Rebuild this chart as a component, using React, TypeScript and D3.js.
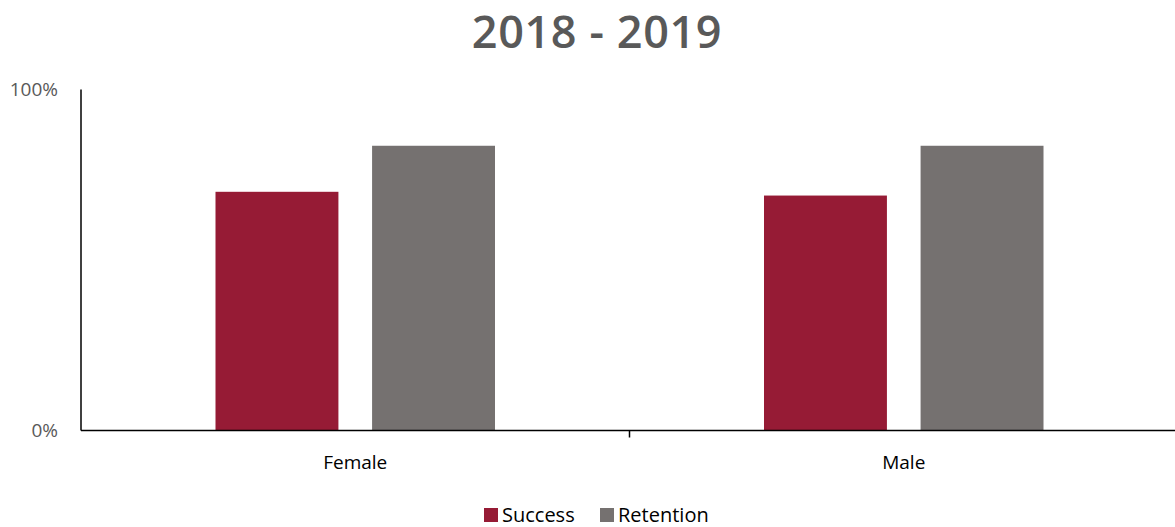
import React, { useEffect } from 'react';
import { scaleBand, scaleLinear } from 'd3';

const categories = ['Female', 'Male'];
const seriesNames = ['Success', 'Retention'];
const successValues = [0.70, 0.689];
const retentionValues = [0.835, 0.835];
const yTicks = [0, 1];
const colors = ['#961B35', '#757170'];

const W = 1175;
const H = 527;
const margin = { left: 81, right: -3, top: 89.5, bottom: 96.5 };

export default function App() {
  useEffect(() => {
    document.body.style.margin = '0';
  }, []);

  const x = scaleBand<string>()
    .domain(categories)
    .range([margin.left, W - margin.right])
    .paddingInner(0)
    .paddingOuter(0);
  const inner = scaleBand<string>()
    .domain(seriesNames)
    .range([134.5, x.bandwidth() - 134.5])
    .paddingInner(0.215);
  const y = scaleLinear().domain([0, 1]).range([H - margin.bottom, margin.top]);

  const series = [successValues, retentionValues];
  const font = "'Open Sans', 'Noto Sans', sans-serif";

  return (
    <svg width={W} height={H} style={{ display: 'block', background: '#fff' }}>
      <text x={597} y={48} textAnchor="middle" fontFamily={font} fontWeight={600} fontSize={45} letterSpacing={0.6} fill="#595959">
        2018 - 2019
      </text>

      {categories.map((c, ci) =>
        seriesNames.map((s, si) => {
          const v = series[si][ci];
          return (
            <rect
              key={c + s}
              x={(x(c) || 0) + (inner(s) || 0)}
              y={y(v)}
              width={inner.bandwidth()}
              height={y(0) - y(v)}
              fill={colors[si]}
            />
          );
        })
      )}

      {/* axes */}
      <line x1={margin.left} x2={margin.left} y1={y(1)} y2={y(0)} stroke="#000" strokeWidth={1.5} />
      <line x1={margin.left} x2={W} y1={y(0)} y2={y(0)} stroke="#000" strokeWidth={1.5} />
      {categories.slice(1).map(c => (
        <line key={c} x1={x(c)} x2={x(c)} y1={y(0)} y2={y(0) + 7} stroke="#000" strokeWidth={1.5} />
      ))}
      {yTicks.map(t => (
        <text key={t} x={58} y={y(t) + 6.5} textAnchor="end" fontFamily={font} fontSize={19} fill="#595959">
          {`${Math.round(t * 100)}%`}
        </text>
      ))}
      {categories.map(c => (
        <text key={c} x={(x(c) || 0) + x.bandwidth() / 2} y={469} textAnchor="middle" fontFamily={font} fontSize={19} fill="#000">
          {c}
        </text>
      ))}

      {/* legend */}
      {seriesNames.map((s, i) => {
        const lx = [484, 600][i];
        return (
          <g key={s}>
            <rect x={lx} y={508} width={14} height={14} fill={colors[i]} />
            <text x={lx + 18} y={521.5} fontFamily={font} fontSize={20} fill="#000">
              {s}
            </text>
          </g>
        );
      })}
    </svg>
  );
}
